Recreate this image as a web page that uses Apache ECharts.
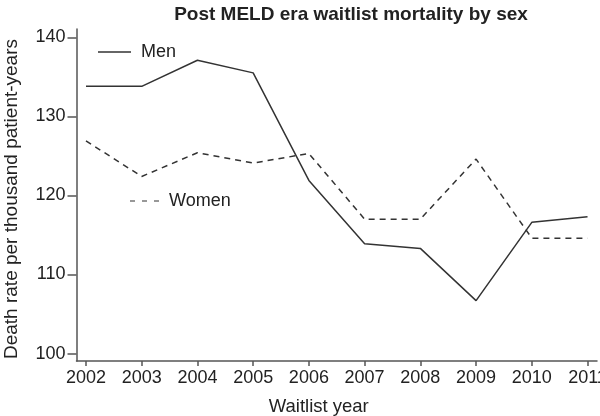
<!DOCTYPE html>
<html>
<head>
<meta charset="utf-8">
<script src="https://cdn.jsdelivr.net/npm/echarts@6/dist/echarts.min.js"></script>
<style>html,body{margin:0;padding:0;background:#fff}#c{width:600px;height:416px}</style>
</head>
<body>
<div id="c"></div>
<script>
const years = [2002, 2003, 2004, 2005, 2006, 2007, 2008, 2009, 2010, 2011];
const men = [133.8, 133.8, 137.1, 135.5, 121.9, 113.9, 113.3, 106.7, 116.6, 117.3];
const women = [126.9, 122.4, 125.4, 124.1, 125.3, 117.0, 117.0, 124.6, 114.6, 114.6];
const yTicks = [100, 110, 120, 130, 140];

const FONT = 'Liberation Sans, Arial, sans-serif';
const chart = echarts.init(document.getElementById('c'), null, {renderer: 'canvas'});
chart.setOption({
  animation: false,
  backgroundColor: '#fff',
  textStyle: {fontFamily: FONT, color: '#222'},
  title: {
    text: 'Post MELD era waitlist mortality by sex',
    left: 346, top: 0, textAlign: 'center',
    textStyle: {fontFamily: FONT, fontWeight: 'bold', fontSize: 19, color: '#222'}
  },
  legend: [
    {data: ['Men'], left: 98, top: 42, padding: 0, itemWidth: 33, itemHeight: 1.5, icon: 'rect',
     itemStyle: {color: '#333'},
     textStyle: {fontFamily: FONT, fontSize: 18, lineHeight: 20, color: '#222', padding: [0,0,0,5]}},
    {data: ['Women'], left: 130, top: 191, padding: 0, itemWidth: 29, itemHeight: 1.5,
     icon: 'path://M0,0h5v1h-5z M12,0h5v1h-5z M24,0h5v1h-5z',
     itemStyle: {color: '#333'},
     textStyle: {fontFamily: FONT, fontSize: 18, lineHeight: 20, color: '#222', padding: [0,0,0,5]}}
  ],
  grid: {left: 76.5, right: 3, top: 29, bottom: 55, containLabel: false, outerBoundsMode: 'none'},
  xAxis: {
    type: 'value', min: 2001.83, max: 2011.17,
    name: 'Waitlist year', nameLocation: 'middle', nameGap: 36,
    nameTextStyle: {fontFamily: FONT, fontSize: 18.5, color: '#222', padding: [0, 36, 0, 0]},
    axisLine: {lineStyle: {color: '#555', width: 1.5}},
    axisTick: {show: true, length: 5, lineStyle: {color: '#555', width: 1.5}, customValues: years},
    axisLabel: {customValues: years, fontFamily: FONT, fontSize: 18, color: '#222', margin: 8,
      formatter: v => String(Math.round(v))},
    splitLine: {show: false}
  },
  yAxis: {
    type: 'value', min: 99.06, max: 141.05,
    name: 'Death rate per thousand patient-years', nameLocation: 'middle', nameGap: 55,
    nameTextStyle: {fontFamily: FONT, fontSize: 19, color: '#222', padding: [0, 8, 0, 0]},
    axisLine: {show: true, lineStyle: {color: '#555', width: 1.5}},
    axisTick: {show: true, length: 9, lineStyle: {color: '#555', width: 1.5}, customValues: yTicks},
    axisLabel: {customValues: yTicks, fontFamily: FONT, fontSize: 18, color: '#222', margin: 11},
    splitLine: {show: false}
  },
  series: [
    {name: 'Men', type: 'line', symbol: 'none', data: years.map((y, i) => [y, men[i]]),
     lineStyle: {color: '#333', width: 1.5, type: 'solid'}, itemStyle: {color: '#333'}},
    {name: 'Women', type: 'line', symbol: 'none', data: years.map((y, i) => [y, women[i]]),
     lineStyle: {color: '#333', width: 1.5, type: [6, 5]}, itemStyle: {color: '#333'}}
  ]
});
</script>
</body>
</html>
